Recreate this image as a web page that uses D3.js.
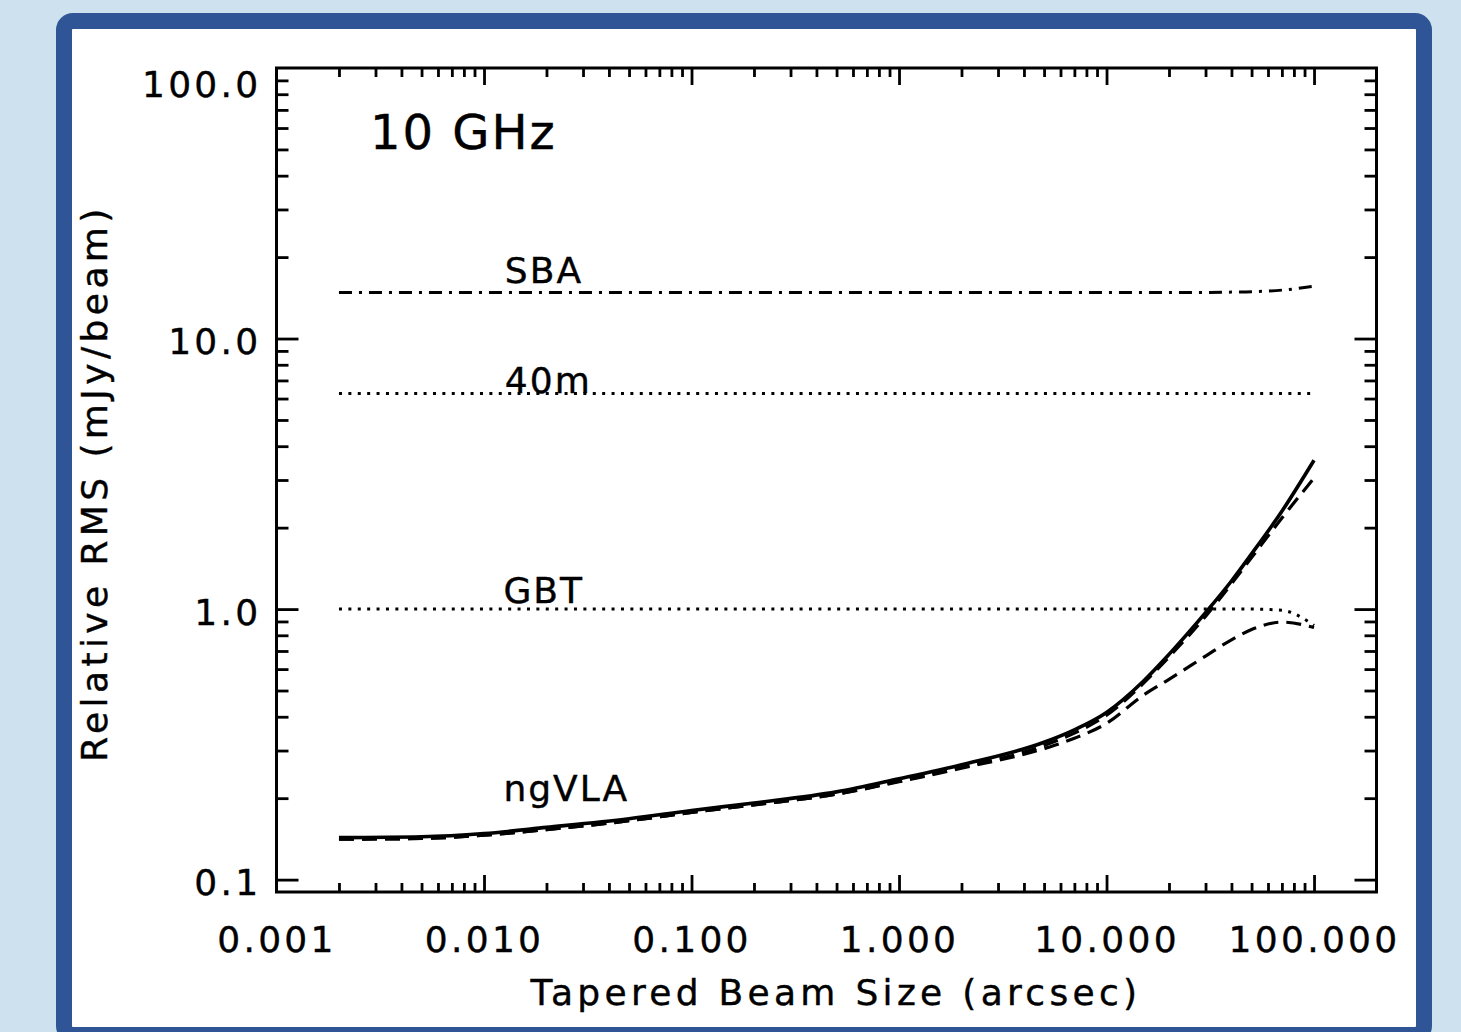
<!DOCTYPE html>
<html>
<head>
<meta charset="utf-8">
<script src="https://cdn.jsdelivr.net/npm/d3@7"></script>
<style>
  html, body { margin: 0; padding: 0; background: #cde2ee; }
  svg { display: block; }
  text { font-family: "DejaVu Sans", sans-serif; fill: #000; stroke: #000; stroke-width: 0.4; }
</style>
</head>
<body>
<svg id="chart" width="1461" height="1032"></svg>
<script>
// ---------------- data ----------------
const beamSizes = [0.002, 0.005, 0.01, 0.02, 0.05, 0.1, 0.2, 0.5, 1, 2, 5, 7, 10, 15, 20, 30, 40, 50, 70, 100];
const ngvla      = [0.143, 0.144, 0.148, 0.156, 0.168, 0.180, 0.192, 0.211, 0.236, 0.266, 0.322, 0.358, 0.415, 0.54, 0.68, 0.97, 1.27, 1.60, 2.30, 3.55];
const ngvlaSBA   = [0.141, 0.142, 0.146, 0.153, 0.165, 0.177, 0.189, 0.207, 0.231, 0.260, 0.313, 0.348, 0.405, 0.53, 0.665, 0.94, 1.24, 1.55, 2.17, 3.05];
const ngvlaGBT   = [0.141, 0.142, 0.146, 0.153, 0.165, 0.177, 0.189, 0.207, 0.230, 0.258, 0.305, 0.333, 0.378, 0.48, 0.55, 0.67, 0.77, 0.84, 0.895, 0.855];
const sba        = [14.8, 14.8, 14.8, 14.8, 14.8, 14.8, 14.8, 14.8, 14.8, 14.8, 14.8, 14.8, 14.8, 14.8, 14.8, 14.8, 14.85, 14.9, 15.1, 15.6];
const m40        = [6.26, 6.26, 6.26, 6.26, 6.26, 6.26, 6.26, 6.26, 6.26, 6.26, 6.26, 6.26, 6.26, 6.26, 6.26, 6.26, 6.26, 6.26, 6.26, 6.26];
const gbt        = [1.0, 1.0, 1.0, 1.0, 1.0, 1.0, 1.0, 1.0, 1.0, 1.0, 1.0, 1.0, 1.0, 1.0, 1.0, 1.0, 1.0, 1.0, 0.99, 0.87];

const xTickLabels = ["0.001", "0.010", "0.100", "1.000", "10.000", "100.000"];
const xTickValues = [0.001, 0.01, 0.1, 1, 10, 100];
const yTickLabels = ["0.1", "1.0", "10.0", "100.0"];
const yTickValues = [0.1, 1, 10, 100];

const labelNames = ["SBA", "40m", "GBT", "ngVLA"];
const labelX     = [0.0126, 0.0126, 0.0124, 0.0124];
const labelY     = [16.0, 6.31, 1.052, 0.196];

const panelTitle = "10 GHz";
const xTitle = "Tapered Beam Size (arcsec)";
const yTitle = "Relative RMS (mJy/beam)";

// ---------------- layout ----------------
const svg = d3.select("#chart");
const L = 276.5, R = 1376.5, T = 68, B = 892;

// frame
svg.append("rect")
  .attr("x", 64).attr("y", 21).attr("width", 1360).attr("height", 1014)
  .attr("rx", 9).attr("ry", 9)
  .attr("fill", "#ffffff").attr("stroke", "#2f5597").attr("stroke-width", 16);

const x = d3.scaleLog().domain([0.001, 200]).range([L, R]);
const y = d3.scaleLog().domain([0.09, 100]).range([B, T]);

// minor tick values
const xMinor = [], yMinor = [];
[0.001, 0.01, 0.1, 1, 10, 100].forEach(d => {
  for (let k = 2; k <= 9; k++) { const v = d * k; if (v < 200 - 1e-9) xMinor.push(v); }
});
[0.1, 1, 10].forEach(d => { for (let k = 2; k <= 9; k++) yMinor.push(d * k); });
const xMajor = xTickValues.slice(1);
const yMajor = yTickValues.slice(0, 3);

function tickAxis(gen, transform, vals, size) {
  const g = svg.append("g").attr("transform", transform)
    .call(gen.tickValues(vals).tickSize(size).tickFormat(""));
  g.select(".domain").remove();
  g.selectAll(".tick line").attr("stroke", "#000").attr("stroke-width", 2.8);
  return g;
}
// bottom & top
tickAxis(d3.axisBottom(x), `translate(0,${B})`, xMajor, -17);
tickAxis(d3.axisBottom(x), `translate(0,${B})`, xMinor, -9);
tickAxis(d3.axisTop(x), `translate(0,${T})`, xMajor, -17);
tickAxis(d3.axisTop(x), `translate(0,${T})`, xMinor, -9);
// left & right
tickAxis(d3.axisLeft(y), `translate(${L},0)`, yMajor, -22);
tickAxis(d3.axisLeft(y), `translate(${L},0)`, yMinor, -12);
tickAxis(d3.axisRight(y), `translate(${R},0)`, yMajor, -22);
tickAxis(d3.axisRight(y), `translate(${R},0)`, yMinor, -12);

// plot box
svg.append("rect").attr("x", L).attr("y", T).attr("width", R - L).attr("height", B - T)
  .attr("fill", "none").attr("stroke", "#000").attr("stroke-width", 3);

// tick labels
const xl = svg.append("g").attr("transform", `translate(0,${B})`)
  .call(d3.axisBottom(x).tickValues(xTickValues).tickSize(0).tickPadding(34)
    .tickFormat((d, i) => xTickLabels[i]));
xl.select(".domain").remove();
xl.selectAll("text").attr("font-size", 36).attr("font-family", "DejaVu Sans, sans-serif")
  .attr("letter-spacing", 3.3).attr("fill", "#000");

const yl = svg.append("g").attr("transform", `translate(${L},0)`)
  .call(d3.axisLeft(y).tickValues(yTickValues).tickSize(0).tickPadding(15)
    .tickFormat((d, i) => yTickLabels[i]));
yl.select(".domain").remove();
yl.selectAll("text").attr("font-size", 36).attr("font-family", "DejaVu Sans, sans-serif")
  .attr("letter-spacing", 3.3).attr("fill", "#000")
  .attr("dy", d => d >= 100 ? "0.78em" : "0.42em");

// axis titles
svg.append("text").attr("x", 836).attr("y", 1005).attr("text-anchor", "middle")
  .attr("font-size", 36).attr("letter-spacing", 4.3).text(xTitle);
svg.append("text").attr("transform", `translate(107,${(T + B) / 2 + 3}) rotate(-90)`)
  .attr("text-anchor", "middle").attr("font-size", 36).attr("letter-spacing", 4.4).text(yTitle);

// series
const line = vals => d3.line()
  .x((d, i) => x(beamSizes[i]))
  .y(d => y(d))
  .curve(d3.curveMonotoneX)(vals);

const series = [
  { v: sba,      dash: "13,7,3,7", w: 3 },
  { v: m40,      dash: "3,6.4",    w: 3 },
  { v: gbt,      dash: "3,6.4",    w: 3 },
  { v: ngvlaGBT, dash: "15,8",     w: 3.2 },
  { v: ngvlaSBA, dash: "15,8",     w: 3.2 },
  { v: ngvla,    dash: null,       w: 3.6 }
];
series.forEach(s => {
  svg.append("path").attr("d", line(s.v)).attr("fill", "none")
    .attr("stroke", "#000").attr("stroke-width", s.w)
    .attr("stroke-dasharray", s.dash);
});

// series labels
labelNames.forEach((n, i) => {
  svg.append("text").attr("x", x(labelX[i])).attr("y", y(labelY[i]))
    .attr("font-size", 36).attr("letter-spacing", 2).text(n);
});

// panel title
svg.append("text").attr("x", x(0.00282)).attr("y", y(50.1))
  .attr("font-size", 48).attr("letter-spacing", 2).text(panelTitle);
</script>
</body>
</html>
